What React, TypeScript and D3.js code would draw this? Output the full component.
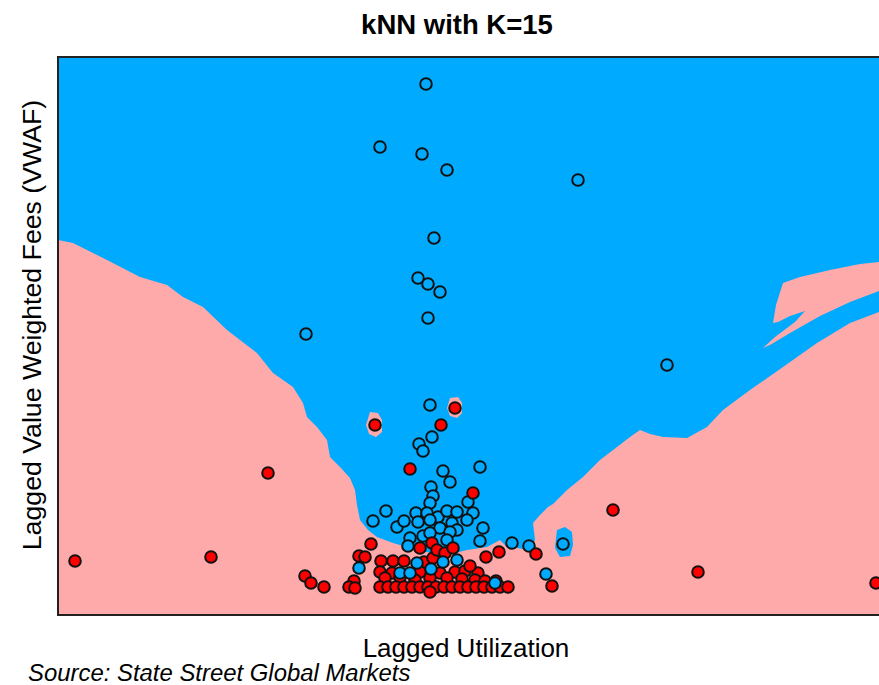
import React from "react";
import * as d3 from "d3";

// Axis extents (no ticks shown in the original)
const X_DOMAIN: [number, number] = [0, 84];
const Y_DOMAIN: [number, number] = [0, 55.8];

const TITLE = "kNN with K=15";
const X_LABEL = "Lagged Utilization";
const Y_LABEL = "Lagged Value Weighted Fees (VWAF)";
const SOURCE = "Source: State Street Global Markets";

// Decision regions (data units): pink = class "low", everything else is blue
const pinkMain: [number, number][] = [
  [0, 37.5], [1.5, 37.2], [4.9, 35.5], [8.2, 33.8], [10.9, 33.0], [12.5, 31.8], [14.5, 30.8],
  [16.9, 28.5], [18.2, 27.5], [19.9, 26.2], [21.5, 24.2], [23.5, 22.8], [24.5, 21.2], [24.9, 19.8],
  [25.9, 18.8], [26.9, 17.5], [27.2, 15.8], [28.2, 14.8], [29.2, 13.7], [29.7, 12.5], [29.9, 11.0],
  [30.2, 9.5], [31.0, 8.5], [31.9, 7.8], [33.5, 7.2], [35.2, 6.7], [36.7, 6.3], [38.2, 6.2],
  [39.7, 6.2], [40.9, 6.5], [42.9, 6.8], [44.2, 7.5], [44.9, 6.8], [45.9, 6.7], [47.2, 6.5],
  [47.7, 7.5], [47.5, 9.2], [48.2, 10.0], [49.0, 10.8], [49.5, 11.1], [50.9, 12.5], [52.5, 13.8],
  [54.2, 15.5], [55.9, 16.8], [57.2, 17.8], [58.2, 18.5], [59.2, 18.1], [60.5, 17.8], [62.9, 17.7],
  [64.9, 18.8], [66.5, 20.5], [69.2, 22.5], [72.5, 24.8], [75.9, 27.2], [79.2, 29.2], [82.1, 30.3],
  [84, 31.0], [84, 0], [0, 0],
];
const pinkUpper: [number, number][] = [
  [72.5, 33.2], [74.2, 33.8], [77.2, 34.5], [80.2, 35.1], [82.1, 35.3], [84, 35.6], [84, 33.0],
  [82.1, 32.4], [79.2, 31.3], [76.2, 29.9], [73.2, 28.2], [71.2, 27.0], [70.5, 26.7], [71.7, 27.8],
  [73.7, 29.3], [74.7, 30.4], [73.2, 29.9], [72.0, 29.3], [71.5, 29.2], [71.8, 31.0],
];
const pinkIslandA: [number, number][] = [
  [31.2, 20.3], [32.0, 20.2], [32.4, 19.5], [32.4, 18.3], [31.8, 17.8], [31.1, 18.1], [30.8, 19.0],
];
const pinkIslandB: [number, number][] = [
  [39.2, 21.7], [40.0, 21.8], [40.4, 21.2], [40.4, 20.2], [39.9, 19.7], [39.2, 19.9], [38.9, 20.7],
];
const blueIsland: [number, number][] = [
  [49.9, 8.5], [50.7, 8.8], [51.4, 8.3], [51.5, 7.0], [51.2, 5.9], [50.2, 5.8], [49.7, 6.7], [49.8, 7.7],
];

// Observations
const bluePoints: [number, number][] = [
  [36.8, 53.1], [32.2, 46.8], [36.4, 46.1], [38.9, 44.5], [52.0, 43.5], [37.6, 37.7], [36.0, 33.7],
  [37.0, 33.1], [38.2, 32.3], [37.0, 29.7], [24.8, 28.1], [60.9, 25.0], [37.2, 21.0], [37.4, 17.8],
  [36.1, 17.1], [36.5, 16.4], [38.5, 14.4], [42.2, 14.8], [39.2, 13.3], [37.3, 12.8], [37.5, 11.9],
  [37.2, 11.2], [41.0, 11.3], [32.8, 10.4], [31.5, 9.4], [33.9, 8.8], [34.6, 9.4], [35.8, 10.2],
  [36.9, 10.2], [38.0, 9.8], [38.9, 10.4], [39.9, 10.3], [41.5, 10.2], [40.9, 9.5], [36.0, 9.3],
  [37.2, 9.5], [38.2, 8.7], [39.4, 9.2], [39.9, 8.5], [42.5, 8.7], [42.2, 7.4], [45.4, 7.2],
  [47.1, 6.9], [50.5, 7.1], [35.2, 7.7], [36.5, 7.9], [37.2, 8.2], [39.2, 8.3], [38.9, 7.5],
  [35.0, 6.9], [48.8, 4.1],
];
const redPoints: [number, number][] = [
  [1.7, 5.4], [15.3, 5.8], [21.0, 14.2], [31.7, 19.0], [39.7, 20.7], [38.3, 19.0], [35.2, 14.6],
  [41.5, 12.2], [55.5, 10.5], [64.0, 4.3], [81.8, 3.2], [47.8, 6.1], [44.1, 6.3], [42.8, 5.8],
  [49.4, 2.9], [24.7, 3.9], [25.3, 3.2], [26.6, 2.8], [29.6, 3.4], [29.1, 2.8], [29.7, 2.7],
  [37.4, 7.2], [31.3, 7.1], [30.1, 5.9], [30.7, 5.8], [32.3, 5.4], [33.5, 5.4], [34.6, 5.4],
  [36.6, 5.3], [37.5, 5.7], [36.2, 6.7], [37.9, 6.5], [38.7, 6.2], [39.5, 6.7], [32.2, 4.3],
  [33.4, 4.2], [36.2, 4.3], [38.2, 4.2], [39.7, 4.3], [40.7, 4.4], [42.0, 4.2], [41.2, 4.9],
  [32.7, 3.7], [34.2, 3.8], [35.7, 3.5], [37.2, 3.7], [38.9, 3.7], [40.4, 3.6], [41.7, 3.5],
  [42.7, 3.4], [43.8, 3.4], [32.2, 2.8], [33.0, 2.8], [33.8, 2.8], [34.6, 2.8], [35.4, 2.8],
  [36.2, 2.8], [37.0, 2.8], [37.8, 2.8], [38.6, 2.8], [39.4, 2.8], [40.2, 2.8], [41.0, 2.8],
  [41.8, 2.8], [42.6, 2.8], [43.4, 2.8], [44.2, 2.8], [45.0, 2.8], [37.2, 2.3],
];
const blueFrontPoints: [number, number][] = [
  [30.1, 4.7], [34.2, 4.2], [35.2, 4.2], [35.9, 5.2], [37.3, 4.6], [38.5, 5.3], [39.9, 5.5], [43.7, 3.2],
];

const BLUE = "#00aaff";
const PINK = "#ffaaaa";
const RED = "#ff0000";

export default function App() {
  const W = 879;
  const H = 685;
  const left = 58, top = 57, right = 898, bottom = 615;
  const x = d3.scaleLinear().domain(X_DOMAIN).range([left, right]);
  const y = d3.scaleLinear().domain(Y_DOMAIN).range([bottom, top]);
  const line = d3.line<[number, number]>().x((d) => x(d[0])).y((d) => y(d[1]));
  const poly = (pts: [number, number][]) => (line(pts) || "") + "Z";

  const dot = (p: [number, number], fill: string, k: string) => (
    <circle key={k} cx={x(p[0])} cy={y(p[1])} r={5.8} fill={fill} stroke="#111" strokeWidth={2} />
  );

  return (
    <div style={{ position: "absolute", left: 0, top: 0 }}>
      <svg width={W} height={H} style={{ display: "block", background: "#fff" }}>
        <defs>
          <clipPath id="plotClip">
            <rect x={left} y={top} width={right - left} height={bottom - top} />
          </clipPath>
        </defs>
        <text x={457} y={34} textAnchor="middle" fontFamily="Liberation Sans, Arial, sans-serif" fontWeight="bold" fontSize={27.5}>
          {TITLE}
        </text>
        <g clipPath="url(#plotClip)">
          <rect x={left} y={top} width={right - left} height={bottom - top} fill={BLUE} />
          <path d={poly(pinkMain)} fill={PINK} />
          <path d={poly(pinkUpper)} fill={PINK} />
          <path d={poly(pinkIslandA)} fill={PINK} />
          <path d={poly(pinkIslandB)} fill={PINK} />
          <path d={poly(blueIsland)} fill={BLUE} />
          {bluePoints.map((p, i) => dot(p, BLUE, "b" + i))}
          {redPoints.map((p, i) => dot(p, RED, "r" + i))}
          {blueFrontPoints.map((p, i) => dot(p, BLUE, "f" + i))}
        </g>
        <rect x={left} y={top} width={right - left} height={bottom - top} fill="none" stroke="#222" strokeWidth={2} />
        <text x={466} y={657} textAnchor="middle" fontFamily="Liberation Sans, Arial, sans-serif" fontSize={26}>
          {X_LABEL}
        </text>
        <text
          transform={`translate(41, ${325}) rotate(-90)`}
          textAnchor="middle"
          fontFamily="Liberation Sans, Arial, sans-serif"
          fontSize={26.7}
        >
          {Y_LABEL}
        </text>
        <text x={28} y={681} fontFamily="Liberation Sans, Arial, sans-serif" fontStyle="italic" fontSize={23.9}>
          {SOURCE}
        </text>
      </svg>
    </div>
  );
}
